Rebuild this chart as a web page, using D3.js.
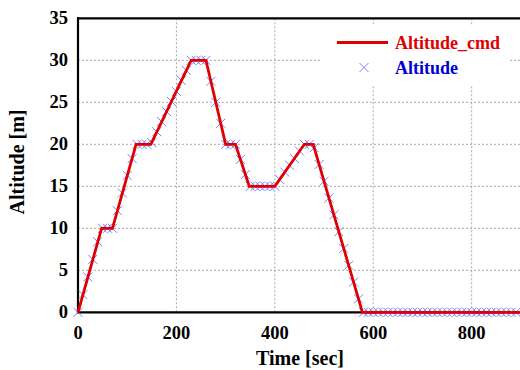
<!DOCTYPE html>
<html><head><meta charset="utf-8">
<script src="https://cdn.jsdelivr.net/npm/d3@7"></script>
<style>body{margin:0;background:#fff;}svg{display:block;}</style>
</head><body><svg id="c" width="520" height="370"></svg>
<script>
// Command profile (time [sec], altitude [m])
const cmdTime = [0, 48, 70, 118, 148, 230, 260, 300, 320, 348, 400, 460, 478, 578, 1000];
const cmdAlt  = [0, 10, 10, 20, 20, 30, 30, 20, 20, 15, 15, 20, 20, 0, 0];
// Measured altitude, sampled every 10 s starting at t = 0
const measStart = 0, measStep = 10;
const measAlt = [
  0, 2.1, 4.2, 6.3, 8.4, 10, 10, 10, 12.1, 14.2,
  16.3, 18.3, 20, 20, 20, 20.2, 21.5, 22.7, 23.9, 25.1,
  26.3, 27.6, 28.8, 30, 30, 30, 30, 27.5, 25, 22.5,
  20, 20, 20, 18.2, 16.4, 15, 15, 15, 15, 15,
  15, 15.8, 16.7, 17.5, 18.3, 19.2, 20, 20, 19.6, 17.6,
  15.6, 13.6, 11.6, 9.6, 7.6, 5.6, 3.6, 1.6, 0, 0,
  0, 0, 0, 0, 0, 0, 0, 0, 0, 0,
  0, 0, 0, 0, 0, 0, 0, 0, 0, 0,
  0, 0, 0, 0, 0, 0, 0, 0, 0, 0
];
const xTicks = [0, 200, 400, 600, 800];
const yTicks = [0, 5, 10, 15, 20, 25, 30, 35];
const seriesNames = ["Altitude_cmd", "Altitude"];

const svg = d3.select("#c");
const font = "'Liberation Serif','Times New Roman',serif";
const x = d3.scaleLinear().domain([0, 1000]).range([78, 570.1]);
const y = d3.scaleLinear().domain([0, 35]).range([312.3, 18.3]);

// grid
const grid = svg.append("g").attr("stroke", "#a8a8a8").attr("stroke-width", 1).attr("stroke-dasharray", "2,2");
xTicks.filter(d => d > 0).forEach(d => {
  grid.append("line").attr("x1", x(d)).attr("x2", x(d)).attr("y1", y(0)).attr("y2", y(35));
});
yTicks.filter(d => d > 0 && d < 35).forEach(d => {
  grid.append("line").attr("x1", x(0)).attr("x2", 520).attr("y1", y(d)).attr("y2", y(d));
});

// legend background (covers grid)
svg.append("rect").attr("x", 322).attr("y", 25).attr("width", 186).attr("height", 61).attr("fill", "#fff");

// axes frame
const frame = svg.append("g").attr("stroke", "#000").attr("stroke-width", 2.2).attr("fill", "none");
frame.append("line").attr("x1", x(0)).attr("x2", x(0)).attr("y1", y(35) - 1).attr("y2", y(0) + 1);
frame.append("line").attr("x1", x(0) - 1).attr("x2", 520).attr("y1", y(35)).attr("y2", y(35));
frame.append("line").attr("x1", x(0) - 1).attr("x2", 520).attr("y1", y(0)).attr("y2", y(0));

// measured markers
const crossPath = s => `M${-s},${-s}L${s},${s}M${-s},${s}L${s},${-s}`;
const mk = svg.append("g").attr("stroke", "#7c7cff").attr("stroke-width", 1).attr("fill", "none");
measAlt.forEach((v, i) => {
  const t = measStart + i * measStep;
  mk.append("path").attr("d", crossPath(4.5)).attr("transform", `translate(${x(t)},${y(v)})`);
});

// command line
const lineData = cmdTime.map((t, i) => [t, cmdAlt[i]]);
svg.append("path").datum(lineData)
  .attr("d", d3.line().x(d => x(d[0])).y(d => y(d[1])))
  .attr("fill", "none").attr("stroke", "#e00000").attr("stroke-width", 2.8).attr("stroke-linejoin", "miter");

// tick labels
const tl = svg.append("g").attr("font-family", font).attr("font-weight", "bold").attr("font-size", 18.5).attr("fill", "#000");
xTicks.forEach(d => {
  tl.append("text").attr("x", x(d)).attr("y", 338.5).attr("text-anchor", "middle").text(d);
});
yTicks.forEach(d => {
  tl.append("text").attr("x", 68).attr("y", y(d) + 6).attr("text-anchor", "end").text(d);
});

// axis titles
svg.append("text").attr("x", 300).attr("y", 365).attr("text-anchor", "middle")
  .attr("font-family", font).attr("font-weight", "bold").attr("font-size", 20).text("Time [sec]");
svg.append("text").attr("transform", "translate(24,162) rotate(-90)").attr("text-anchor", "middle")
  .attr("font-family", font).attr("font-weight", "bold").attr("font-size", 20).text("Altitude [m]");

// legend
svg.append("line").attr("x1", 337).attr("x2", 388).attr("y1", 42.5).attr("y2", 42.5)
  .attr("stroke", "#e00000").attr("stroke-width", 2.8);
svg.append("text").attr("x", 395).attr("y", 49).attr("font-family", font).attr("font-weight", "bold")
  .attr("font-size", 18).attr("fill", "#e00000").text(seriesNames[0]);
svg.append("path").attr("d", crossPath(4.5)).attr("transform", "translate(364,67.5)")
  .attr("stroke", "#7c7cff").attr("stroke-width", 1).attr("fill", "none");
svg.append("text").attr("x", 395).attr("y", 74).attr("font-family", font).attr("font-weight", "bold")
  .attr("font-size", 18).attr("fill", "#0000d0").text(seriesNames[1]);
</script></body></html>
